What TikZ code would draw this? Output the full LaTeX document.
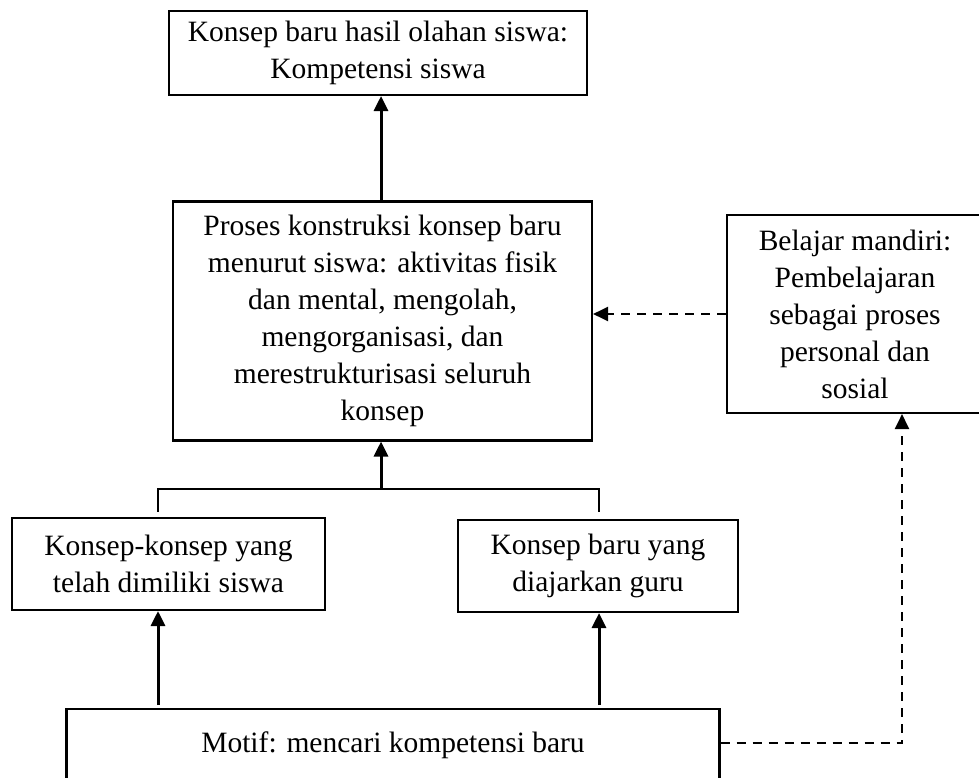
\documentclass[tikz,border=0pt]{standalone}
\usepackage{fontspec}
\setmainfont{Liberation Serif}
\usetikzlibrary{arrows.meta}

\begin{document}
\begin{tikzpicture}[x=1pt,y=-1pt,>={Triangle[length=15pt,width=14pt]},
  kotak/.style={draw,line width=2.1pt,align=center,inner sep=0pt,
    font=\fontsize{29.5}{37}\selectfont},
  garis/.style={line width=2.3pt},
  panah/.style={->,line width=3pt},
  putus/.style={->,line width=2.2pt,dash pattern=on 9pt off 7pt}]
  \useasboundingbox (0,0) rectangle (979,778);
  \clip (0,0) rectangle (979,778);
  % kotak-kotak
  \node[kotak,minimum width=418pt,minimum height=84pt] (hasil) at (378,53)
    {Konsep baru hasil olahan siswa:\\Kompetensi siswa};
  \node[kotak,minimum width=419pt,minimum height=239pt] (proses) at (382.5,321)
    {Proses konstruksi konsep baru\\menurut siswa: aktivitas fisik\\dan mental, mengolah,\\mengorganisasi, dan\\merestrukturisasi seluruh\\konsep};
  \node[kotak,minimum width=256pt,minimum height=198pt] (mandiri) at (855,314)
    {Belajar mandiri:\\Pembelajaran\\sebagai proses\\personal dan\\sosial};
  \node[kotak,minimum width=313pt,minimum height=92pt] (dimiliki) at (168.5,564)
    {Konsep-konsep yang\\telah dimiliki siswa};
  \node[kotak,minimum width=280pt,minimum height=92pt] (diajarkan) at (598,566)
    {Konsep baru yang\\diajarkan guru};
  \node[kotak,minimum width=653pt,text height=43pt,text depth=60pt,anchor=north] (motif) at (393,708)
    {Motif: mencari kompetensi baru};
  % titik cabang
  \coordinate (cabang) at (381,489);
  \coordinate (kiri) at (158,489);
  \coordinate (kanan) at (599,489);
  % panah
  \draw[panah] (proses.north -| cabang) -- (cabang |- hasil.south);
  \draw[panah] (cabang) -- (cabang |- proses.south);
  \draw[garis] ([yshift=5pt]kiri |- dimiliki.north) -- (kiri) -- (kanan)
    -- ([yshift=7pt]kanan |- diajarkan.north);
  \draw[panah] ([yshift=3pt]kiri |- motif.north) -- (kiri |- dimiliki.south);
  \draw[panah] ([yshift=3pt]kanan |- motif.north) -- (kanan |- diajarkan.south);
  \draw[putus] ([yshift=9pt]motif.base east) -| ([xshift=47pt]mandiri.south);
  \draw[putus] (mandiri.west) -- (mandiri.west -| proses.east);
\end{tikzpicture}
\end{document}
